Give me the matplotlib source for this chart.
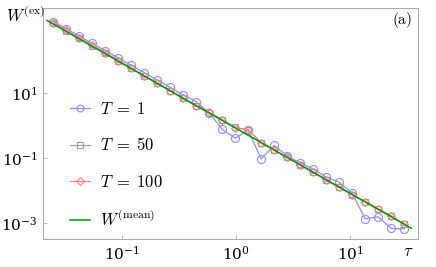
import numpy as np
import matplotlib
matplotlib.use("Agg")
import matplotlib.pyplot as plt

plt.rcParams['mathtext.fontset'] = 'cm'
plt.rcParams['font.family'] = ['DejaVu Serif']

tau = [0.025, 0.0325, 0.0423, 0.0549, 0.0714, 0.0928, 0.1207, 0.1569, 0.2039,
       0.2651, 0.3446, 0.4480, 0.5824, 0.7571, 0.9842, 1.2795, 1.6633, 2.1624,
       2.8111, 3.6544, 4.7507, 6.1759, 8.0287, 10.437, 13.568, 17.639, 22.931, 29.810]

w_T1 = [1581, 957, 566, 335, 198, 120, 71.0, 42.2, 24.9, 14.8, 8.73, 5.41, 2.43,
        0.771, 0.406, 0.710, 0.0940, 0.243, 0.1167, 0.0706, 0.0458, 0.0259, 0.0180,
        0.00845, 0.001346, 0.001552, 0.000684, 0.000656]

w_T50 = [1409, 834, 493, 285, 172.6, 99.8, 57.7, 33.5, 20.3, 11.7, 6.78, 4.01, 2.48,
         1.503, 0.869, 0.726, 0.284, 0.176, 0.1064, 0.0615, 0.0372, 0.0215, 0.01245,
         0.00753, 0.00456, 0.00270, 0.00168, 0.000927]

w_T100 = [1442, 853, 493, 292, 172.6, 99.8, 59.0, 33.5, 19.8, 11.7, 6.78, 3.92, 2.54,
          1.503, 0.849, 0.743, 0.297, 0.180, 0.104, 0.0615, 0.0364, 0.0215, 0.01274,
          0.00736, 0.00446, 0.00276, 0.00164, 0.000948]

mean_tau = [0.022, 34.5]
mean_w = [1698, 0.000691]

labels = [r'$T\;=\;1$', r'$T\;=\;50$', r'$T\;=\;100$', r'$W^{(\mathrm{mean})}$']

fig = plt.figure(figsize=(4.36, 2.67), dpi=100)
ax = fig.add_axes([43/436, 1-239/267, 375/436, 231/267])

ax.plot(tau, w_T1, '-o', color='#8c8cff', lw=0.9, ms=5.8, mfc='none', mew=0.8, label=labels[0])
ax.plot(tau, w_T50, '-s', color='#a0a0a0', lw=0.9, ms=5.0, mfc='none', mew=0.8, label=labels[1])
ax.plot(tau, w_T100, '-D', color='#ff8080', lw=0.9, ms=4.3, mfc='none', mew=0.8, label=labels[2])
ax.plot(mean_tau, mean_w, '-', color='#009900', lw=1.1, label=labels[3])

ax.set_xscale('log')
ax.set_yscale('log')
ax.set_xlim(0.0203, 39.5)
ax.set_ylim(3.22e-4, 4121)
ax.set_xticks([0.1, 1, 10])
ax.set_yticks([1e-3, 1e-1, 1e1])
ax.minorticks_off()
ax.tick_params(direction='in', length=3, width=0.6, color='#aaaaaa', labelsize=11, pad=4)
for s in ax.spines.values():
    s.set_color('#aaaaaa')
    s.set_linewidth(0.8)

leg = ax.legend(loc='center left', bbox_to_anchor=(0.072, 0.318), frameon=False,
                fontsize=12, labelspacing=1.15, handlelength=1.2, handletextpad=0.6,
                markerscale=0.85, borderpad=0, borderaxespad=0)

fig.text(25/436, 1-16/267, r'$W^{(\mathrm{ex})}$', fontsize=12, ha='center', va='center')
fig.text(408/436, 1-252/267, r'$\tau$', fontsize=12, ha='center', va='center')
ax.text(0.985, 0.95, r'$\mathrm{(a)}$', transform=ax.transAxes, fontsize=11, ha='right', va='center')

fig.savefig('out.png', dpi=100)
